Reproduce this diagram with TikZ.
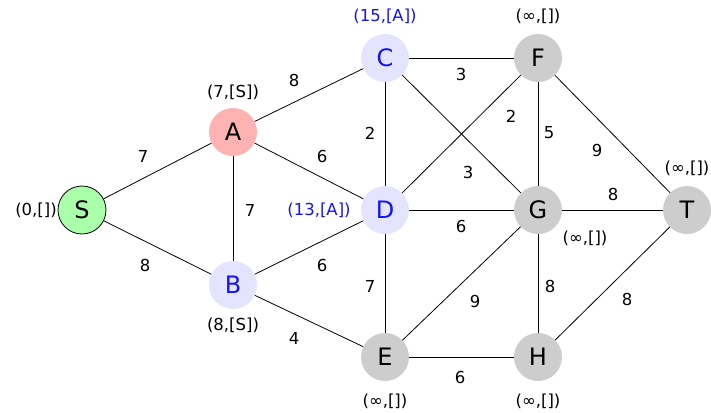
\documentclass[tikz,border=0pt]{standalone}
\usepackage{fontspec}
\setmainfont{DejaVu Sans}
\definecolor{vpink}{RGB}{255,178,178}
\definecolor{vlav}{RGB}{228,228,255}
\definecolor{vgray}{RGB}{205,205,205}
\definecolor{vgreen}{RGB}{170,255,170}
\definecolor{vblue}{RGB}{20,20,245}
\begin{document}
\begin{tikzpicture}[x=1pt,y=-1pt,
  vert/.style={circle,minimum size=48pt,inner sep=0pt,font=\fontsize{24}{26}\selectfont},
  vs/.style={vert,fill=vgreen,draw=black,line width=0.8pt},
  va/.style={vert,fill=vpink},
  vl/.style={vert,fill=vlav,text=vblue},
  vg/.style={vert,fill=vgray},
  lab/.style={font=\fontsize{16.5}{18}\selectfont,inner sep=0pt},
  blab/.style={lab,text=vblue},
  w/.style={font=\fontsize{16.5}{18}\selectfont,inner sep=0pt},
  edge/.style={line width=0.8pt}]
\useasboundingbox (0,0) rectangle (711,412);
\node[vs] (S) at (82,210) {S};
\node[va] (A) at (233,132) {A};
\node[vl] (B) at (233,285) {B};
\node[vl] (C) at (385,58) {C};
\node[vl] (D) at (385,210) {D};
\node[vg] (E) at (385,357) {E};
\node[vg] (F) at (538,58) {F};
\node[vg] (G) at (538,210) {G};
\node[vg] (H) at (538,357) {H};
\node[vg] (T) at (687,210) {T};
% edges
\draw[edge] (S) -- (A);
\draw[edge] (S) -- (B);
\draw[edge] (A) -- (C);
\draw[edge] (A) -- (D);
\draw[edge] (A) -- (B);
\draw[edge] (B) -- (D);
\draw[edge] (B) -- (E);
\draw[edge] (C) -- (D);
\draw[edge] (C) -- (F);
\draw[edge] (C) -- (G);
\draw[edge] (D) -- (F);
\draw[edge] (D) -- (G);
\draw[edge] (D) -- (E);
\draw[edge] (F) -- (G);
\draw[edge] (F) -- (T);
\draw[edge] (G) -- (T);
\draw[edge] (G) -- (E);
\draw[edge] (G) -- (H);
\draw[edge] (H) -- (T);
\draw[edge] (E) -- (H);
% weights
\node[w] (wSA) at (143,156) {7};
\node[w] (wSB) at (145,265) {8};
\node[w] (wAC) at (294,80) {8};
\node[w] (wAD) at (322,156) {6};
\node[w] (wAB) at (250,210) {7};
\node[w] (wBD) at (322,265) {6};
\node[w] (wBE) at (294,338) {4};
\node[w] (wCD) at (370,133) {2};
\node[w] (wCF) at (461,74) {3};
\node[w] (wCG) at (468,172) {3};
\node[w] (wDF) at (511,116) {2};
\node[w] (wDG) at (461,226) {6};
\node[w] (wDE) at (370,286) {7};
\node[w] (wFG) at (549,133) {5};
\node[w] (wFT) at (597,150) {9};
\node[w] (wGT) at (613,194) {8};
\node[w] (wGE) at (475,301) {9};
\node[w] (wGH) at (550,286) {8};
\node[w] (wHT) at (627,299) {8};
\node[w] (wEH) at (460,377) {6};
% labels
\node[lab] (lS) at (36,210) {(0,[])};
\node[lab] (lA) at (233,92) {(7,[S])};
\node[lab] (lB) at (233,325) {(8,[S])};
\node[blab] (lC) at (385,16) {(15,[A])};
\node[blab] (lD) at (319,210) {(13,[A])};
\node[lab] (lE) at (385,401) {(∞,[])};
\node[lab] (lF) at (538,16) {(∞,[])};
\node[lab] (lG) at (585,238) {(∞,[])};
\node[lab] (lH) at (538,401) {(∞,[])};
\node[lab] (lT) at (687,168) {(∞,[])};
\end{tikzpicture}
\end{document}
